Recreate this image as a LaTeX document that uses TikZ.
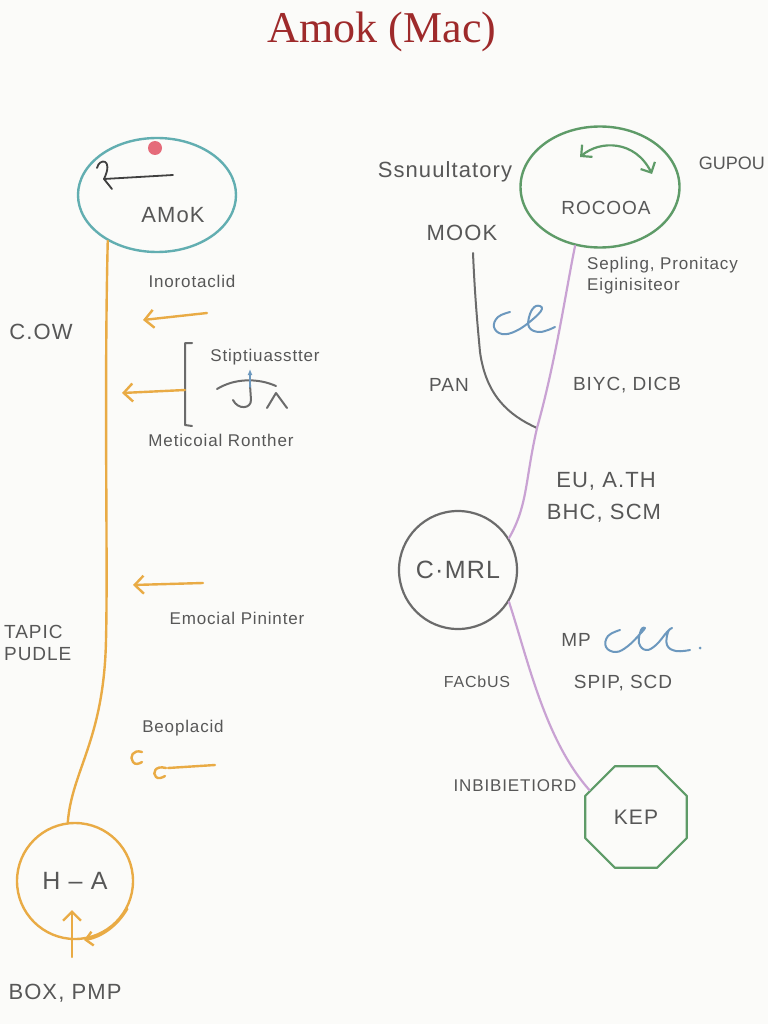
\documentclass[tikz,border=0pt]{standalone}
\usepackage{fontspec}
\setmainfont{Liberation Sans}
\newfontfamily\handfont[LetterSpace=5]{Liberation Sans}
\newfontfamily\titlefont{Liberation Serif}
\usetikzlibrary{arrows.meta,calc,positioning,shapes.geometric}
\definecolor{amokInk}{HTML}{575757}
\definecolor{amokRed}{HTML}{9E2A2B}
\definecolor{amokTeal}{HTML}{62AEB1}
\definecolor{amokGreen}{HTML}{5E9B68}
\definecolor{amokOrange}{HTML}{E9AB45}
\definecolor{amokLilac}{HTML}{C9A2D3}
\definecolor{amokBlue}{HTML}{6C98BE}
\definecolor{amokGrey}{HTML}{6B6B6B}
\definecolor{amokDot}{HTML}{E56B7A}
\definecolor{amokPaper}{HTML}{FBFBF9}

\begin{document}
\begin{tikzpicture}[x=1pt,y=-1pt,>=Latex,line cap=round,line join=round]
\useasboundingbox (0,0) rectangle (768,1024);
\path[fill=amokPaper] (0,0) rectangle (768,1024);
\clip (0,0) rectangle (768,1024);
\tikzset{lbl/.style={text=amokInk,inner sep=0pt,font=\handfont\fontsize{17}{21}\selectfont},lblmid/.style={lbl,font=\handfont\fontsize{19}{22}\selectfont},lblbig/.style={lbl,font=\handfont\fontsize{22}{26}\selectfont},orangeline/.style={draw=amokOrange,line width=2.4pt},lilacline/.style={draw=amokLilac,line width=2.2pt},greyline/.style={draw=amokGrey,line width=2pt},blueline/.style={draw=amokBlue,line width=2pt},barb/.style={-{Straight Barb[length=9pt,width=18pt]}},blob/.style={ellipse,line width=2.4pt,inner sep=0pt}}
\node[text=amokRed,font=\titlefont\fontsize{44}{50}\selectfont] (title) at (382,32) {Amok (Mac)};
\node[blob,draw=amokTeal,minimum width=158pt,minimum height=114pt] (amok) at (157,195) {};
\node[circle,fill=amokDot,minimum size=14pt,inner sep=0pt] (amokdot) at (155,148) {};
\node[lblbig] (amoklabel) at (173,215) {AMoK};
\coordinate (amokarrow) at (173,175); \coordinate (amokhook) at (104,179);
\draw[draw=black!75,line width=1.8pt] (amokarrow) -- (amokhook) -- (112,189);
\draw[draw=black!75,line width=1.8pt] (97,168) .. controls (99,158) and (114,158) .. (amokhook);
\node[lbl] (inoro) at (192,281) {Inorotaclid};
\node[lblbig] (cow) at (41,332) {C.OW};
\node[lbl] (stip) at (265,357) {Stiptiuasstter};
\node[lbl] (meti) at (221,440) {Meticoial Ronther};
\node[lblmid,align=left,anchor=west] (tapic) at (4,643) {TAPIC\\PUDLE};
\node[lbl] (emoc) at (237,618) {Emocial Pininter};
\node[lbl] (beop) at (183,728) {Beoplacid};
\node[circle,draw=amokOrange,line width=2.4pt,minimum size=116pt,inner sep=0pt,text=amokInk,font=\handfont\fontsize{25}{28}\selectfont] (ha) at (75,881) {H \textendash{} A};
\node[lblbig] (boxpmp) at (65,993) {BOX, PMP};
\draw[orangeline] (amok.-137) .. controls (104,400) and (108,560) .. (106,640) .. controls (104,740) and (72,770) .. (ha.97);
\coordinate (arrA) at (207,313); \coordinate (arrAtip) at (143,320);
\draw[orangeline,barb] (arrA) -- (arrAtip);
\coordinate (brtop) at (192,343); \coordinate (brmid) at (185,390); \coordinate (brbot) at (192,426); \coordinate (arrBtip) at (122,393);
\draw[greyline] (brtop) -- (185,343) -- (185,425) -- (brbot);
\draw[orangeline,barb] (brmid) -- (arrBtip);
\coordinate (arrC) at (203,583); \coordinate (arrCtip) at (133,585);
\draw[orangeline,barb] (arrC) -- (arrCtip);
\coordinate (ccA) at (137,752); \coordinate (ccB) at (160,768); \coordinate (ccend) at (215,765);
\draw[orangeline] (ccA) ++(5,0) .. controls (133,749) and (129,757) .. (133,762) .. controls (135,765) and (139,764) .. (142,762);
\draw[orangeline] (ccB) ++(6,0) .. controls (155,765) and (152,773) .. (156,777) .. controls (158,779) and (162,778) .. (165,776);
\draw[orangeline] (168,768) -- (ccend);
\draw[greyline] (217,389) .. controls (235,378) and (258,378) .. (276,386);
\draw[greyline] (250,385) -- (251,400) .. controls (251,409) and (238,410) .. (233,400);
\draw[draw=amokBlue,line width=1.6pt,-{Latex[length=6pt,width=5pt]}] (250,387) -- (250,369);
\draw[greyline] (267,408) -- (276,393) -- (287,408);
\coordinate (hainA) at (72,957); \coordinate (hainB) at (72,910);
\draw[orangeline,barb] (hainA) -- (hainB);
\coordinate (haloop) at (84,940);
\draw[orangeline,-{Straight Barb[length=7pt,width=14pt]}] (ha.-28) .. controls (118,925) and (102,937) .. (haloop);
\node[blob,draw=amokGreen,minimum width=159pt,minimum height=121pt] (rocooa) at (600,187) {};
\node[lblmid] (rocooalabel) at (606,208) {ROCOOA};
\coordinate (rocL) at (580,157); \coordinate (rocR) at (652,174);
\draw[draw=amokGreen,line width=2.2pt,{Straight Barb[length=8pt,width=16pt]}-{Straight Barb[length=8pt,width=16pt]}] (rocL) .. controls (600,140) and (635,140) .. (rocR);
\node[lblbig] (ssnu) at (445,172) {Ssnuultatory};
\node[lbl,font=\fontsize{18}{21}\selectfont,anchor=east] (gupou) at (765,163) {GUPOU};
\node[lblbig] (mook) at (462,233) {MOOK};
\node[lbl,align=left,anchor=west] (sepl) at (587,276) {Sepling, Pronitacy\\Eiginisiteor};
\node[lblmid] (pan) at (449,385) {PAN};
\node[lblmid] (biyc) at (627,385) {BIYC, DICB};
\node[lblbig] (euath) at (606,481) {EU, A.TH};
\node[lblbig] (bhc) at (604,513) {BHC, SCM};
\node[circle,draw=amokGrey,line width=2.2pt,minimum size=118pt,inner sep=0pt,text=amokInk,font=\handfont\fontsize{25}{28}\selectfont] (cmrl) at (458,570) {C·MRL};
\node[lblmid] (mp) at (576,640) {MP};
\node[lbl,font=\handfont\fontsize{16}{19}\selectfont] (facous) at (477,682) {FACbUS};
\node[lblmid] (spip) at (623,683) {SPIP, SCD};
\node[lbl] (inbi) at (515,786) {INBIBIETIORD};
\node[regular polygon,regular polygon sides=8,draw=amokGreen,line width=2.2pt,minimum size=110pt,inner sep=0pt,text=amokInk,font=\handfont\fontsize{21}{24}\selectfont] (kep) at (636,817) {KEP};
\coordinate (mookfoot) at (473,253); \coordinate (junc) at (537,428);
\draw[greyline] (mookfoot) .. controls (475,300) and (478,330) .. (480,352) .. controls (486,395) and (508,415) .. (junc);
\draw[lilacline] (rocooa.-113) .. controls (566,290) and (556,360) .. (junc) .. controls (525,480) and (528,505) .. (cmrl.32);
\draw[lilacline] (cmrl.-32) .. controls (528,660) and (545,740) .. (kep.150);
\draw[blueline] plot[smooth,tension=0.7] coordinates {(510,312) (498,317) (494,327) (502,334) (516,331) (532,320) (542,309) (536,306) (530,314) (529,327) (540,332) (555,327)};
\draw[blueline] plot[smooth,tension=0.7] coordinates {(620,630) (608,636) (606,647) (616,652) (628,646) (640,634) (645,628) (641,630) (639,643) (646,650) (656,645) (667,632) (672,628) (668,632) (667,645) (676,651) (690,650)};
\node[circle,fill=amokBlue,minimum size=3pt,inner sep=0pt] (mpdot) at (700,648) {};
\end{tikzpicture}
\end{document}
